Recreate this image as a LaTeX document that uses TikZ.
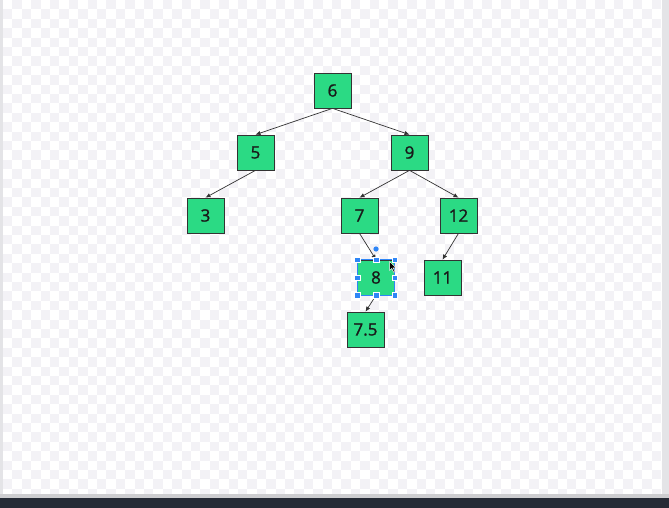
\documentclass[tikz,border=0pt]{standalone}
\usepackage{fontspec}
\setmainfont{Open Sans}
\newfontfamily\nodefont{Open Sans}[FakeBold=1.2]
\usetikzlibrary{arrows.meta}
\definecolor{nodegreen}{HTML}{2BDA84}
\definecolor{edgegray}{HTML}{333333}
\definecolor{checker}{HTML}{F3F2F6}
\definecolor{selblue}{HTML}{2F86F6}
\definecolor{darkbar}{HTML}{262B36}
\definecolor{framegray}{HTML}{E4E4E7}
\tikzset{
  treenode/.style={draw=edgegray, line width=0.7pt, fill=nodegreen, minimum width=37pt, minimum height=35pt, inner sep=0pt, font=\nodefont\fontsize{17}{20}\selectfont, text=black!90},
  edge/.style={draw=edgegray, line width=0.7pt, -{Latex[length=5pt,width=4.5pt]}},
  handle/.style={fill=selblue, draw=white, line width=0.4pt, minimum size=5.5pt, inner sep=0pt, rectangle},
}
\begin{document}
\begin{tikzpicture}[x=1pt,y=-1pt]
\useasboundingbox (0,0) rectangle (669,508);
% background and frame
\fill[white] (0,0) rectangle (669,508);
\foreach \i in {0,...,70} {
  \foreach \j in {0,...,52} {
    \pgfmathparse{int(mod(\i+\j,2))}
    \ifnum\pgfmathresult=1
      \fill[checker] ({3+\i*9.4},{\j*9.4}) rectangle ({min(661,3+(\i+1)*9.4)},{min(494,(\j+1)*9.4)});
    \fi
  }
}
\fill[framegray] (0,0) rectangle (2.5,497);
\fill[framegray] (661.5,0) rectangle (669,497);
\fill[framegray!90!black] (0,494) rectangle (669,497.5);
\fill[darkbar] (0,498) rectangle (669,508);
% nodes
\node[treenode] (n6) at (332.5,90.5) {6};
\node[treenode] (n5) at (255.5,152.5) {5};
\node[treenode] (n9) at (409.5,152.5) {9};
\node[treenode] (n3) at (205.5,215.5) {3};
\node[treenode] (n7) at (359.5,215.5) {7};
\node[treenode] (n12) at (458.5,215.5) {12};
\node[treenode] (n8) at (376,277.5) {8};
\node[treenode] (n11) at (442.5,277.5) {11};
\node[treenode] (n75) at (365.5,329.5) {7.5};
% edges
\draw[edge] (n6.south) -- (n5.north);
\draw[edge] (n6.south) -- (n9.north);
\draw[edge] (n5.south) -- (n3.north);
\draw[edge] (n9.south) -- (n7.north);
\draw[edge] (n9.south) -- (n12.north);
\draw[edge] (n7.south) -- (n8.north);
\draw[edge] (n12.south) -- (n11.north);
\draw[edge] (n8.south) -- (n75.north);
% selection on node 8
\draw[selblue, line width=0.9pt] (n8.north west) rectangle (n8.south east);
\foreach \a in {north west,north,north east,east,south east,south,south west,west}
  \node[handle] at (n8.\a) {};
\coordinate (rot) at (376,249);
\fill[selblue] (rot) circle (2.6pt);
% cursor
\coordinate (cur) at (389.5,261.5);
\filldraw[fill=black, draw=white, line width=0.5pt] (cur) -- ++(0,9) -- ++(2.2,-2) -- ++(2,3.8) -- ++(1.4,-0.8) -- ++(-2,-3.6) -- ++(3,-0.2) -- cycle;
\end{tikzpicture}
\end{document}
